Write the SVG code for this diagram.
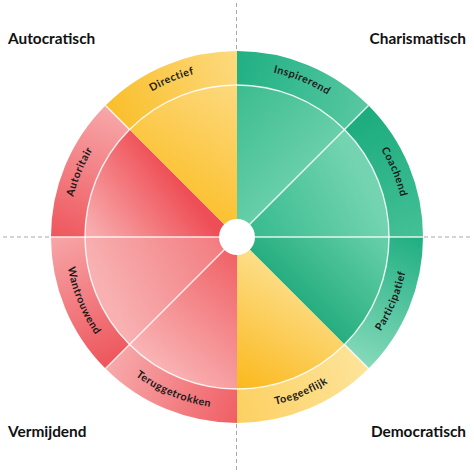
<svg xmlns="http://www.w3.org/2000/svg" xmlns:xlink="http://www.w3.org/1999/xlink" width="474" height="474" viewBox="0 0 474 474">
<style>
.corner{font-family:Lato,"Liberation Sans",sans-serif;font-weight:700;font-size:15.4px;fill:#111}
.lbl{font-family:Lato,"Liberation Sans",sans-serif;font-weight:700;font-size:10.6px;letter-spacing:0.55px;fill:#1a1a1a}
.axis{stroke:#a8a8a8;stroke-width:1;stroke-dasharray:4 3;fill:none}
.sep{stroke:#ffffff;stroke-width:1.4;fill:none;opacity:0.85}
</style>
<defs>
<linearGradient id="gInspO" gradientUnits="userSpaceOnUse" x1="237" y1="60" x2="368" y2="105"><stop offset="0" stop-color="#20b083"/><stop offset="1" stop-color="#58c8a1"/></linearGradient>
<linearGradient id="gInspI" gradientUnits="userSpaceOnUse" x1="240" y1="90" x2="335" y2="180"><stop offset="0" stop-color="#3ebd91"/><stop offset="1" stop-color="#74d4b1"/></linearGradient>
<linearGradient id="gCoaO" gradientUnits="userSpaceOnUse" x1="368" y1="105" x2="423" y2="237"><stop offset="0" stop-color="#1aab7c"/><stop offset="1" stop-color="#45c097"/></linearGradient>
<linearGradient id="gCoaI" gradientUnits="userSpaceOnUse" x1="250" y1="228" x2="360" y2="170"><stop offset="0" stop-color="#38bb8f"/><stop offset="1" stop-color="#74d4b1"/></linearGradient>
<linearGradient id="gParO" gradientUnits="userSpaceOnUse" x1="423" y1="237" x2="368" y2="368"><stop offset="0" stop-color="#1fae80"/><stop offset="1" stop-color="#86dabb"/></linearGradient>
<linearGradient id="gParI" gradientUnits="userSpaceOnUse" x1="300" y1="330" x2="385" y2="245"><stop offset="0" stop-color="#18a777"/><stop offset="1" stop-color="#64cea7"/></linearGradient>
<linearGradient id="gToeO" gradientUnits="userSpaceOnUse" x1="237" y1="423" x2="368" y2="368"><stop offset="0" stop-color="#fcd061"/><stop offset="1" stop-color="#fde49a"/></linearGradient>
<linearGradient id="gToeI" gradientUnits="userSpaceOnUse" x1="237" y1="385" x2="300" y2="275"><stop offset="0" stop-color="#fbb91f"/><stop offset="1" stop-color="#fddf8c"/></linearGradient>
<linearGradient id="gTerO" gradientUnits="userSpaceOnUse" x1="110" y1="368" x2="237" y2="423"><stop offset="0" stop-color="#f7a8aa"/><stop offset="1" stop-color="#ef5f64"/></linearGradient>
<linearGradient id="gTerI" gradientUnits="userSpaceOnUse" x1="237" y1="260" x2="150" y2="360"><stop offset="0" stop-color="#f06469"/><stop offset="1" stop-color="#f9b3b4"/></linearGradient>
<linearGradient id="gWanO" gradientUnits="userSpaceOnUse" x1="51" y1="237" x2="105" y2="368"><stop offset="0" stop-color="#f7a6a8"/><stop offset="1" stop-color="#ed555b"/></linearGradient>
<linearGradient id="gWanI" gradientUnits="userSpaceOnUse" x1="222" y1="245" x2="110" y2="300"><stop offset="0" stop-color="#f27d81"/><stop offset="1" stop-color="#f8b0b1"/></linearGradient>
<linearGradient id="gAutO" gradientUnits="userSpaceOnUse" x1="105" y1="105" x2="51" y2="237"><stop offset="0" stop-color="#f7a8aa"/><stop offset="1" stop-color="#ee565c"/></linearGradient>
<linearGradient id="gAutI" gradientUnits="userSpaceOnUse" x1="175" y1="175" x2="95" y2="235"><stop offset="0" stop-color="#ee4e55"/><stop offset="1" stop-color="#f8aaac"/></linearGradient>
<linearGradient id="gDirO" gradientUnits="userSpaceOnUse" x1="105" y1="105" x2="237" y2="51"><stop offset="0" stop-color="#f9be29"/><stop offset="1" stop-color="#fdda80"/></linearGradient>
<linearGradient id="gDirI" gradientUnits="userSpaceOnUse" x1="175" y1="190" x2="237" y2="90"><stop offset="0" stop-color="#fbc232"/><stop offset="1" stop-color="#fdd87c"/></linearGradient>
<path id="pInsp" d="M237,68.5 A168.5,168.5 0 0 1 356.15,117.85"/>
<path id="pCoa" d="M356.15,117.85 A168.5,168.5 0 0 1 405.5,237"/>
<path id="pPar" d="M358.62,358.62 A172,172 0 0 0 409,237"/>
<path id="pToe" d="M237,409 A172,172 0 0 0 358.62,358.62"/>
<path id="pTer" d="M115.38,358.62 A172,172 0 0 0 237,409"/>
<path id="pWan" d="M65,237 A172,172 0 0 0 115.38,358.62"/>
<path id="pAut" d="M68.5,237 A168.5,168.5 0 0 1 117.85,117.85"/>
<path id="pDir" d="M117.85,117.85 A168.5,168.5 0 0 1 237,68.5"/>
</defs>

<g id="axes">
<line class="axis" x1="236.5" y1="3" x2="236.5" y2="50"/>
<line class="axis" x1="236.5" y1="424" x2="236.5" y2="471"/>
<line class="axis" x1="3" y1="237" x2="50" y2="237"/>
<line class="axis" x1="424" y1="237" x2="471" y2="237"/>
</g>

<g id="inspirerend">
<path d="M237,237 L237,85 A152,152 0 0 1 344.48,129.52 Z" fill="url(#gInspI)"/>
<path d="M237,51 A186,186 0 0 1 368.52,105.48 L344.48,129.52 A152,152 0 0 0 237,85 Z" fill="url(#gInspO)"/>
<text class="lbl"><textPath href="#pInsp" xlink:href="#pInsp" startOffset="50%" text-anchor="middle">Inspirerend</textPath></text>
</g>
<g id="coachend">
<path d="M237,237 L344.48,129.52 A152,152 0 0 1 389,237 Z" fill="url(#gCoaI)"/>
<path d="M368.52,105.48 A186,186 0 0 1 423,237 L389,237 A152,152 0 0 0 344.48,129.52 Z" fill="url(#gCoaO)"/>
<text class="lbl"><textPath href="#pCoa" xlink:href="#pCoa" startOffset="50%" text-anchor="middle">Coachend</textPath></text>
</g>
<g id="participatief">
<path d="M237,237 L389,237 A152,152 0 0 1 344.48,344.48 Z" fill="url(#gParI)"/>
<path d="M423,237 A186,186 0 0 1 368.52,368.52 L344.48,344.48 A152,152 0 0 0 389,237 Z" fill="url(#gParO)"/>
<text class="lbl"><textPath href="#pPar" xlink:href="#pPar" startOffset="50%" text-anchor="middle">Participatief</textPath></text>
</g>
<g id="toegeeflijk">
<path d="M237,237 L344.48,344.48 A152,152 0 0 1 237,389 Z" fill="url(#gToeI)"/>
<path d="M368.52,368.52 A186,186 0 0 1 237,423 L237,389 A152,152 0 0 0 344.48,344.48 Z" fill="url(#gToeO)"/>
<text class="lbl"><textPath href="#pToe" xlink:href="#pToe" startOffset="50%" text-anchor="middle">Toegeeflijk</textPath></text>
</g>
<g id="teruggetrokken">
<path d="M237,237 L237,389 A152,152 0 0 1 129.52,344.48 Z" fill="url(#gTerI)"/>
<path d="M237,423 A186,186 0 0 1 105.48,368.52 L129.52,344.48 A152,152 0 0 0 237,389 Z" fill="url(#gTerO)"/>
<text class="lbl"><textPath href="#pTer" xlink:href="#pTer" startOffset="50%" text-anchor="middle">Teruggetrokken</textPath></text>
</g>
<g id="wantrouwend">
<path d="M237,237 L129.52,344.48 A152,152 0 0 1 85,237 Z" fill="url(#gWanI)"/>
<path d="M105.48,368.52 A186,186 0 0 1 51,237 L85,237 A152,152 0 0 0 129.52,344.48 Z" fill="url(#gWanO)"/>
<text class="lbl"><textPath href="#pWan" xlink:href="#pWan" startOffset="50%" text-anchor="middle">Wantrouwend</textPath></text>
</g>
<g id="autoritair">
<path d="M237,237 L85,237 A152,152 0 0 1 129.52,129.52 Z" fill="url(#gAutI)"/>
<path d="M51,237 A186,186 0 0 1 105.48,105.48 L129.52,129.52 A152,152 0 0 0 85,237 Z" fill="url(#gAutO)"/>
<text class="lbl"><textPath href="#pAut" xlink:href="#pAut" startOffset="50%" text-anchor="middle">Autoritair</textPath></text>
</g>
<g id="directief">
<path d="M237,237 L129.52,129.52 A152,152 0 0 1 237,85 Z" fill="url(#gDirI)"/>
<path d="M105.48,105.48 A186,186 0 0 1 237,51 L237,85 A152,152 0 0 0 129.52,129.52 Z" fill="url(#gDirO)"/>
<text class="lbl"><textPath href="#pDir" xlink:href="#pDir" startOffset="50%" text-anchor="middle">Directief</textPath></text>
</g>

<g id="connectors">
<circle class="sep" cx="237" cy="237" r="152"/>
<line class="sep" x1="237" y1="237" x2="368.52" y2="105.48"/>
<line class="sep" x1="237" y1="237" x2="423" y2="237"/>
<line class="sep" x1="237" y1="237" x2="51" y2="237"/>
<line class="sep" x1="237" y1="237" x2="105.48" y2="368.52"/>
<line class="sep" x1="344.48" y1="344.48" x2="368.52" y2="368.52"/>
<line class="sep" x1="129.52" y1="129.52" x2="105.48" y2="105.48"/>
</g>

<g id="center">
<circle cx="237" cy="237" r="18" fill="#ffffff"/>
</g>

<g id="corners">
<text class="corner" x="8" y="44">Autocratisch</text>
<text class="corner" x="466" y="44" text-anchor="end">Charismatisch</text>
<text class="corner" x="8" y="437">Vermijdend</text>
<text class="corner" x="466" y="437" text-anchor="end">Democratisch</text>
</g>
</svg>
